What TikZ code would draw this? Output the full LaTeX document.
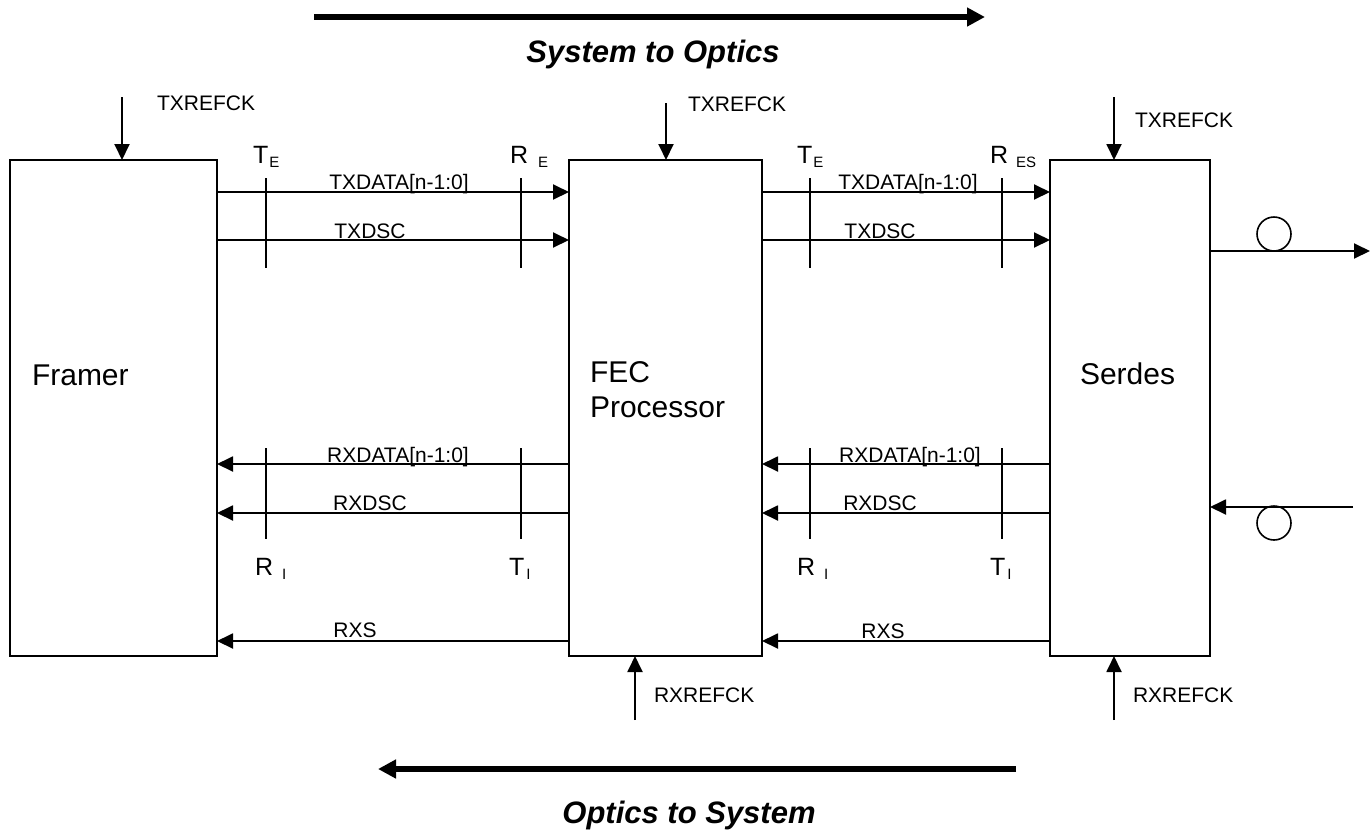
\documentclass[tikz,border=0pt]{standalone}
\usepackage{fontspec}
\setmainfont{Liberation Sans}
\usetikzlibrary{arrows.meta}
\newcommand{\ptname}[3]{#1\hspace{#3}\raisebox{-4pt}{\fontsize{15}{18}\selectfont #2}}

\begin{document}
\begin{tikzpicture}[x=1pt, y=-1pt,
        every node/.style={inner sep=0pt, outer sep=0pt},
        block/.style={rectangle, draw, line width=1.6pt, minimum height=496pt},
        blocktext/.style={font=\fontsize{30}{35}\selectfont, anchor=base west},
        sig/.style={line width=1.9pt, -{Triangle[length=16pt,width=15pt]}},
        tickline/.style={line width=1.9pt},
        sigtext/.style={font=\fontsize{21}{25}\selectfont, anchor=base},
        cktext/.style={font=\fontsize{21}{25}\selectfont, anchor=base west},
        pttext/.style={font=\fontsize{25}{30}\selectfont, anchor=base west},
        fiber/.style={circle, draw, line width=1.6pt, minimum size=34pt},
        flow/.style={line width=6pt, -{Triangle[length=18pt,width=18pt]}},
        flowtext/.style={font=\fontsize{31}{37}\selectfont\bfseries\itshape, anchor=base}
    ]
        \useasboundingbox (0,0) rectangle (1371,831);

        \node[block, minimum width=207pt] (framer) at (113.5,408) {};
        \node[block, minimum width=193pt] (fec)    at (665.5,408) {};
        \node[block, minimum width=160pt] (serdes) at (1130,408)  {};
        \node[blocktext] at (32,385)   {Framer};
        \node[blocktext] at (590,382)  {FEC};
        \node[blocktext] at (590,417)  {Processor};
        \node[blocktext] at (1080,384) {Serdes};

        \coordinate (txd) at (0,192);
        \coordinate (txs) at (0,240);
        \coordinate (rxd) at (0,464);
        \coordinate (rxs) at (0,513);
        \coordinate (rxst) at (0,641);

        \draw[sig] (framer.east |- txd) -- (fec.west |- txd);
        \draw[sig] (framer.east |- txs) -- (fec.west |- txs);
        \draw[sig] (fec.west |- rxd) -- (framer.east |- rxd);
        \draw[sig] (fec.west |- rxs) -- (framer.east |- rxs);
        \draw[sig] (fec.west |- rxst) -- (framer.east |- rxst);
        \draw[sig] (fec.east |- txd) -- (serdes.west |- txd);
        \draw[sig] (fec.east |- txs) -- (serdes.west |- txs);
        \draw[sig] (serdes.west |- rxd) -- (fec.east |- rxd);
        \draw[sig] (serdes.west |- rxs) -- (fec.east |- rxs);
        \draw[sig] (serdes.west |- rxst) -- (fec.east |- rxst);

        \node[sigtext] at (399,189) {TXDATA[n-1:0]};
        \node[sigtext] at (370,238) {TXDSC};
        \node[sigtext] at (398,462) {RXDATA[n-1:0]};
        \node[sigtext] at (370,510) {RXDSC};
        \node[sigtext] at (355,637) {RXS};
        \node[sigtext] at (908,189) {TXDATA[n-1:0]};
        \node[sigtext] at (880,238) {TXDSC};
        \node[sigtext] at (910,462) {RXDATA[n-1:0]};
        \node[sigtext] at (880,510) {RXDSC};
        \node[sigtext] at (883,638) {RXS};

        \foreach \x in {266,521,810,1002} {
            \draw[tickline] (\x,178) -- (\x,268);
            \draw[tickline] (\x,448) -- (\x,539);
        }
        \node[pttext] at (253,163) {\ptname{T}{E}{1pt}};
        \node[pttext] at (510,163) {\ptname{R}{E}{10pt}};
        \node[pttext] at (797,163) {\ptname{T}{E}{1pt}};
        \node[pttext] at (990,163) {\ptname{R}{ES}{8pt}};
        \node[pttext] at (255,575) {\ptname{R}{I}{9pt}};
        \node[pttext] at (509,575) {\ptname{T}{I}{2pt}};
        \node[pttext] at (797,575) {\ptname{R}{I}{9pt}};
        \node[pttext] at (990,575) {\ptname{T}{I}{2pt}};

        \coordinate (ckframer) at (122,97);
        \coordinate (ckfectx) at (666,103);
        \coordinate (ckserdestx) at (1114,97);
        \coordinate (ckfecrx) at (635,720);
        \coordinate (ckserdesrx) at (1114,720);
        \draw[sig] (ckframer) -- (framer.north -| ckframer);
        \draw[sig] (ckfectx) -- (fec.north -| ckfectx);
        \draw[sig] (ckserdestx) -- (serdes.north -| ckserdestx);
        \draw[sig] (ckfecrx) -- (fec.south -| ckfecrx);
        \draw[sig] (ckserdesrx) -- (serdes.south -| ckserdesrx);
        \node[cktext] at (157,110)  {TXREFCK};
        \node[cktext] at (688,111)  {TXREFCK};
        \node[cktext] at (1135,127) {TXREFCK};
        \node[cktext] at (654,702)  {RXREFCK};
        \node[cktext] at (1133,702) {RXREFCK};

        \coordinate (optout) at (1370,251);
        \coordinate (optin) at (1353,507);
        \draw[sig] (serdes.east |- optout) -- (optout);
        \draw[sig] (optin) -- (serdes.east |- optin);
        \node[fiber] (fibout) at (1274,234) {};
        \node[fiber] (fibin)  at (1274,523) {};

        \coordinate (s2oa) at (314,17);
        \coordinate (s2ob) at (985,17);
        \coordinate (o2sa) at (1016,769);
        \coordinate (o2sb) at (378,769);
        \draw[flow] (s2oa) -- (s2ob);
        \draw[flow] (o2sa) -- (o2sb);
        \node[flowtext] at (653,62)  {System to Optics};
        \node[flowtext] at (689,823) {Optics to System};
    \end{tikzpicture}
\end{document}
